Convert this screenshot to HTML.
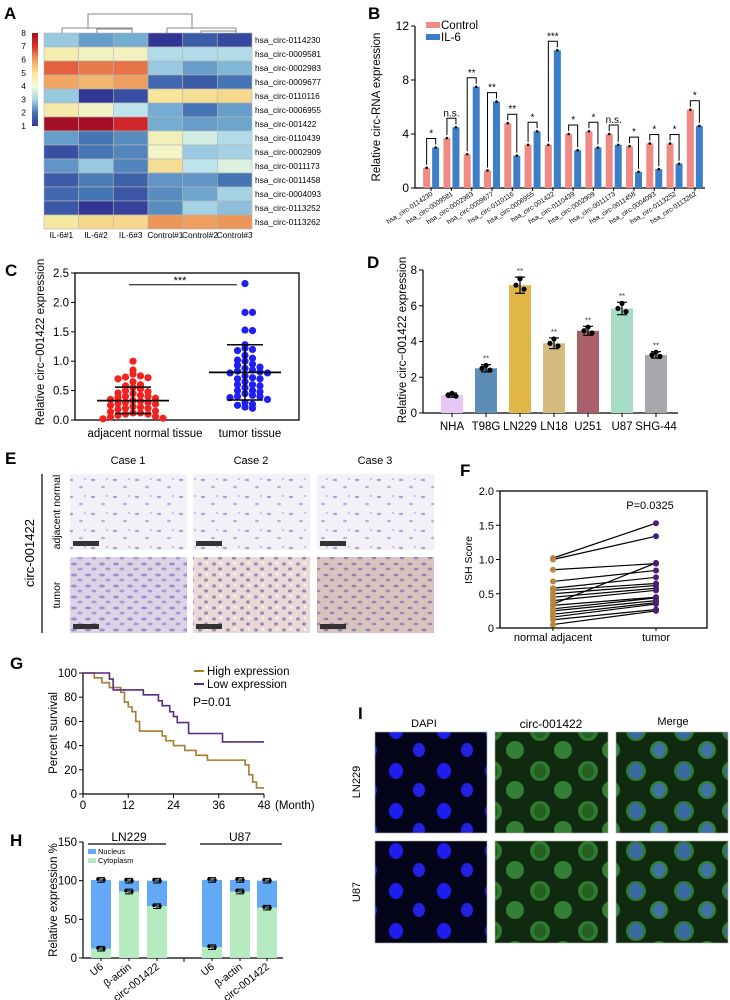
<!DOCTYPE html>
<html><head><meta charset="utf-8">
<style>
body{margin:0;background:#fff;}
svg{display:block;font-family:"Liberation Sans",Arial,sans-serif;}
.pl{font-weight:bold;font-size:17px;}
</style></head>
<body>
<svg id="fig" width="730" height="1000" viewBox="0 0 730 1000" xmlns="http://www.w3.org/2000/svg">
<defs>
<linearGradient id="cbar" x1="0" y1="1" x2="0" y2="0">
<stop offset="0" stop-color="#313695"/><stop offset="0.14" stop-color="#4575b4"/><stop offset="0.29" stop-color="#abd9e9"/><stop offset="0.43" stop-color="#f3fbd4"/><stop offset="0.57" stop-color="#f8e59a"/><stop offset="0.71" stop-color="#f1a35d"/><stop offset="0.86" stop-color="#d73027"/><stop offset="1" stop-color="#a50f26"/>
</linearGradient>
<pattern id="pAdj" width="22" height="17" patternUnits="userSpaceOnUse"><rect width="22" height="17" fill="#f3f0f8"/><ellipse cx="5" cy="4" rx="2.2" ry="1.2" fill="#a9a3dc"/><ellipse cx="15" cy="11" rx="2" ry="1.3" fill="#b6b0e2"/><ellipse cx="19" cy="3" rx="1.3" ry="1" fill="#c2bde6"/></pattern>
<pattern id="pT1" width="14" height="11" patternUnits="userSpaceOnUse"><rect width="14" height="11" fill="#ddd3e6"/><ellipse cx="4" cy="3" rx="3" ry="1.5" fill="#9b90cc"/><ellipse cx="10" cy="8" rx="2.6" ry="1.5" fill="#a79cd2"/></pattern>
<pattern id="pT2" width="14" height="11" patternUnits="userSpaceOnUse"><rect width="14" height="11" fill="#e8d9d6"/><ellipse cx="4" cy="3" rx="2" ry="1.6" fill="#a18ab8"/><ellipse cx="10" cy="8" rx="2" ry="1.6" fill="#9c86b0"/><circle cx="11" cy="2" r="1.5" fill="#f6f0ee"/></pattern>
<pattern id="pT3" width="14" height="11" patternUnits="userSpaceOnUse"><rect width="14" height="11" fill="#d9c3bf"/><ellipse cx="4" cy="3" rx="2.6" ry="1.4" fill="#9282b2"/><ellipse cx="10" cy="8" rx="2.4" ry="1.4" fill="#9a88b4"/></pattern>
<pattern id="pDapi" width="48" height="40" patternUnits="userSpaceOnUse"><rect width="48" height="40" fill="#04041a"/><ellipse cx="12" cy="11" rx="7" ry="8" fill="#1d1df0"/><ellipse cx="35" cy="30" rx="6" ry="7" fill="#2222e0"/></pattern>
<pattern id="pGreen" width="48" height="40" patternUnits="userSpaceOnUse"><rect width="48" height="40" fill="#0f2a0f"/><ellipse cx="12" cy="11" rx="10" ry="10" fill="#2f7a2f"/><ellipse cx="12" cy="11" rx="6" ry="7" fill="#246224"/><ellipse cx="35" cy="30" rx="9" ry="9" fill="#347f34"/></pattern>
<pattern id="pMerge" width="48" height="40" patternUnits="userSpaceOnUse"><rect width="48" height="40" fill="#0f2a0f"/><ellipse cx="12" cy="11" rx="10" ry="10" fill="#2f7a2f"/><ellipse cx="12" cy="11" rx="7" ry="8" fill="#3a6aa5"/><ellipse cx="35" cy="30" rx="9" ry="9" fill="#347f34"/><ellipse cx="35" cy="30" rx="6" ry="7" fill="#3f70a8"/></pattern>
</defs>

<text class="pl" x="4" y="19">A</text>
<text class="pl" x="368" y="19">B</text>
<text class="pl" x="5" y="276">C</text>
<text class="pl" x="367" y="268">D</text>
<text class="pl" x="5" y="464">E</text>
<text class="pl" x="460" y="476">F</text>
<text class="pl" x="10" y="669">G</text>
<text class="pl" x="10" y="846">H</text>
<text class="pl" x="358" y="719">I</text>

<g id="gA">
<rect x="32" y="33" width="6" height="93" fill="url(#cbar)"/>
</g>
<g id="gB"></g>
<g id="gC"></g>
<g id="gD"></g>

<g id="gE">
<text x="128" y="464" font-size="11" text-anchor="middle">Case 1</text>
<text x="251" y="464" font-size="11" text-anchor="middle">Case 2</text>
<text x="375" y="464" font-size="11" text-anchor="middle">Case 3</text>
<line x1="42" y1="474" x2="42" y2="633" stroke="#000" stroke-width="1.2"/>
<text transform="translate(34,553) rotate(-90)" font-size="13" text-anchor="middle">circ-001422</text>
<text transform="translate(60,512) rotate(-90)" font-size="10.5" text-anchor="middle">adjacent normal</text>
<text transform="translate(60,595) rotate(-90)" font-size="10.5" text-anchor="middle">tumor</text>
<rect x="70" y="474" width="117" height="76" fill="url(#pAdj)"/>
<rect x="193" y="474" width="117" height="76" fill="url(#pAdj)"/>
<rect x="317" y="474" width="117" height="76" fill="url(#pAdj)"/>
<rect x="70" y="557" width="117" height="76" fill="url(#pT1)"/>
<rect x="193" y="557" width="117" height="76" fill="url(#pT2)"/>
<rect x="317" y="557" width="117" height="76" fill="url(#pT3)"/>
<g fill="#333"><rect x="73" y="541" width="26" height="5"/><rect x="196" y="541" width="26" height="5"/><rect x="320" y="541" width="26" height="5"/><rect x="73" y="624" width="26" height="5"/><rect x="196" y="624" width="26" height="5"/><rect x="320" y="624" width="26" height="5"/></g>
</g>

<g id="gF"></g>
<g id="gG"></g>
<g id="gH"></g>

<g id="gI">
<text x="424" y="727" font-size="11" text-anchor="middle">DAPI</text>
<text x="551" y="728" font-size="12" text-anchor="middle">circ-001422</text>
<text x="673" y="725" font-size="11" text-anchor="middle">Merge</text>
<text transform="translate(360,782) rotate(-90)" font-size="11" text-anchor="middle">LN229</text>
<text transform="translate(360,892) rotate(-90)" font-size="11" text-anchor="middle">U87</text>
<rect x="375" y="732" width="112" height="101" fill="url(#pDapi)" stroke="#aaa" stroke-width="0.6"/>
<rect x="495" y="732" width="113" height="101" fill="url(#pGreen)" stroke="#aaa" stroke-width="0.6"/>
<rect x="616" y="732" width="112" height="101" fill="url(#pMerge)" stroke="#aaa" stroke-width="0.6"/>
<rect x="375" y="841" width="112" height="102" fill="url(#pDapi)" stroke="#aaa" stroke-width="0.6"/>
<rect x="495" y="841" width="113" height="102" fill="url(#pGreen)" stroke="#aaa" stroke-width="0.6"/>
<rect x="616" y="841" width="112" height="102" fill="url(#pMerge)" stroke="#aaa" stroke-width="0.6"/>
</g>
</svg>

<script>
const NS="http://www.w3.org/2000/svg";
function mk(tag,attrs,parent,txt){const e=document.createElementNS(NS,tag);for(const k in attrs)e.setAttribute(k,attrs[k]);if(txt!==undefined)e.textContent=txt;parent.appendChild(e);return e;}

/* ---------- A: heatmap ---------- */
const hmRows=["hsa_circ-0114230","hsa_circ-0009581","hsa_circ-0002983","hsa_circ-0009677","hsa_circ-0110116","hsa_circ-0006955","hsa_circ-001422","hsa_circ-0110439","hsa_circ-0002909","hsa_circ-0011173","hsa_circ-0011458","hsa_circ-0004093","hsa_circ-0113252","hsa_circ-0113262"];
const hmCols=["IL-6#1","IL-6#2","IL-6#3","Control#1","Control#2","Control#3"];
const hmVals=[[3,2.5,2.7,1,1.6,1.3],[4.5,4.3,4.3,3.2,3.2,3.2],[6.5,6.2,6.3,3,2.5,2.8],[5.7,5.5,5.8,1.8,1.6,2],[3,1,1.4,4.8,4.9,5],[4.6,4.2,3.3,2.7,2,2.5],[8,8,7.5,2.7,2.5,2.6],[2.5,2,2.3,4.4,3.6,3.2],[1.4,2,2.2,4.2,3,3.1],[2.4,3,2.2,4.9,3.3,3.7],[1.6,2.1,1.7,2.4,2.4,2],[1.8,2,1.5,2.3,2.6,3.1],[1.5,1,1.2,2.3,3.1,2.9],[4.7,5,5,5.9,5.8,5.9]];
const cbTicks=[1,2,3,4,5,6,7,8];
(function(){
 const g=document.getElementById('gA');
 const stops=[[1,[49,54,149]],[2,[69,117,180]],[2.7,[116,173,209]],[3.3,[190,228,238]],[4,[240,249,215]],[4.8,[246,229,154]],[5.6,[241,176,104]],[6.5,[228,97,63]],[7.5,[208,39,42]],[8,[165,15,38]]];
 function col(v){for(let i=0;i<stops.length-1;i++){const a=stops[i],b=stops[i+1];if(v<=b[0]){const t=Math.max(0,(v-a[0])/(b[0]-a[0]));return 'rgb('+a[1].map((c,j)=>Math.round(c+(b[1][j]-c)*t)).join(',')+')';}}return 'rgb(165,15,38)';}
 const x0=44,y0=33,cw=34.67,rh=14;
 hmVals.forEach((row,r)=>{row.forEach((v,c)=>{
  const e=mk('rect',{x:x0+c*cw,y:y0+r*rh,width:cw,height:rh,fill:col(v),stroke:'#b5b5b5','stroke-width':0.6},g);
  
  
 });
 const t=mk('text',{x:255,y:y0+r*rh+10,'font-size':8.3},g,hmRows[r]);
 
 
 });
 hmCols.forEach((c,i)=>{const t=mk('text',{x:x0+(i+0.5)*cw,y:238,'font-size':8.3,'text-anchor':'middle'},g,c);
  
  });
 cbTicks.forEach(v=>{const t=mk('text',{x:26,y:126-(v-1)*13.3+3,'font-size':8.5,'text-anchor':'end'},g,v);
  
  });
 const d="M62 33V28H132V33M97 28V29M97 33V29H132M88 28V14H192V28M167 28H236M201 33V31H236V33M167 33V28M236 31V28";
 const p=mk('path',{d:d,fill:'none',stroke:'#666','stroke-width':0.8},g);
 
 
})();

/* ---------- B: grouped bars ---------- */
const bCats=["hsa_circ-0114230","hsa_circ-0009581","hsa_circ-0002983","hsa_circ-0009677","hsa_circ-0110116","hsa_circ-0006955","hsa_circ-001422","hsa_circ-0110439","hsa_circ-0002909","hsa_circ-0011173","hsa_circ-0011458","hsa_circ-0004093","hsa_circ-0113252","hsa_circ-0113262"];
const bControl=[1.5,3.7,2.5,1.3,4.8,3.2,3.2,4.0,4.2,4.0,3.1,3.3,3.3,5.8];
const bIL6=[3.0,4.5,7.5,6.4,2.4,4.2,10.2,2.8,3.0,3.2,1.2,1.4,1.8,4.6];
const bSig=["*","n.s.","**","**","**","*","***","*","*","n.s.","*","*","*","*"];
const bTicks=[0,4,8,12];
(function(){
 const g=document.getElementById('gB');
 const X0=415,X1=705,Y0=188,Y1=26,yMax=12;
 const y=v=>Y0-(v/yMax)*(Y0-Y1);
 const gw=(X1-X0-6)/bCats.length;
 const cx=i=>X0+6+gw*(i+0.5);
 mk('line',{x1:X0,y1:Y0,x2:X1,y2:Y0,stroke:'#000','stroke-width':1.2},g);
 mk('line',{x1:X0,y1:Y1,x2:X0,y2:Y0,stroke:'#000','stroke-width':1.2},g);
 bTicks.forEach(v=>{mk('line',{x1:X0-4,y1:y(v),x2:X0,y2:y(v),stroke:'#000'},g);
  const t=mk('text',{x:X0-6,y:y(v)+4,'font-size':12,'text-anchor':'end'},g,v);
  
  });
 bCats.forEach((c,i)=>{
  const a=mk('rect',{x:cx(i)-8,y:y(bControl[i]),width:7,height:Y0-y(bControl[i]),fill:'#f08a84'},g);
  
  
  const b=mk('rect',{x:cx(i)+1,y:y(bIL6[i]),width:7,height:Y0-y(bIL6[i]),fill:'#3d7fc6'},g);
  
  
  mk('circle',{cx:cx(i)-4.5,cy:y(bControl[i]),r:1.3,fill:'#000'},g);
  mk('circle',{cx:cx(i)+4.5,cy:y(bIL6[i]),r:1.3,fill:'#000'},g);
  const top=Math.max(bControl[i],bIL6[i]);
  const by=y(top)-9;
  mk('path',{d:`M${cx(i)-4.5} ${y(bControl[i])-3}V${by}H${cx(i)+4.5}V${y(bIL6[i])-3}`,fill:'none',stroke:'#000','stroke-width':1},g);
  const s=mk('text',{x:cx(i),y:by-2,'font-size':10,'text-anchor':'middle'},g,bSig[i]);
  
  
  mk('line',{x1:cx(i),y1:Y0,x2:cx(i),y2:Y0+3,stroke:'#000'},g);
  const t=mk('text',{x:cx(i)+2,y:Y0+7,'font-size':6.8,'text-anchor':'end',transform:`rotate(-33 ${cx(i)+2} ${Y0+7})`},g,c);
  
  
 });
 const l1=mk('rect',{x:426,y:22,width:14,height:6,fill:'#f08a84'},g);
 
 
 mk('text',{x:441,y:29,'font-size':11.5},g,'Control');
 const l2=mk('rect',{x:426,y:34,width:14,height:6,fill:'#3d7fc6'},g);
 
 
 mk('text',{x:441,y:41,'font-size':11.5},g,'IL-6');
 const yl=mk('text',{transform:'translate(380,107) rotate(-90)','font-size':11.5,'text-anchor':'middle'},g,'Relative circ-RNA expression');
 
 
})();

/* ---------- C: scatter ---------- */
const cNormal=[1.0,0.85,0.78,0.75,0.73,0.72,0.70,0.65,0.6,0.58,0.55,0.53,0.5,0.48,0.46,0.45,0.42,0.4,0.38,0.37,0.35,0.33,0.32,0.3,0.28,0.27,0.25,0.23,0.22,0.2,0.2,0.18,0.15,0.14,0.12,0.12,0.1,0.1,0.08,0.06,0.05,0.03,0.02,0.4,0.3];
const cTumor=[2.32,1.83,1.83,1.53,1.52,1.28,1.22,1.2,1.18,1.1,1.05,1.02,1.0,0.95,0.93,0.9,0.88,0.85,0.83,0.82,0.8,0.8,0.75,0.72,0.7,0.65,0.6,0.58,0.55,0.5,0.48,0.45,0.42,0.4,0.4,0.38,0.35,0.3,0.27,0.25,0.22,0.2,0.6,0.7,0.5];
const cStats=[[0.33,0.11,0.56],[0.81,0.34,1.28]];
const cGroups=["adjacent normal tissue","tumor tissue"];
const cTicks=[0,0.5,1,1.5,2,2.5];
(function(){
 const g=document.getElementById('gC');
 const X0=75,X1=299,Y0=420,Y1=273;
 const y=v=>Y0-(v/2.5)*(Y0-Y1);
 const gx=[133,245],cols=['#f2231f','#1f1ff2'];
 mk('rect',{x:X0,y:Y1,width:X1-X0,height:Y0-Y1,fill:'none',stroke:'#000','stroke-width':1.3},g);
 cTicks.forEach(v=>{mk('line',{x1:X0-4,y1:y(v),x2:X0,y2:y(v),stroke:'#000'},g);
  const t=mk('text',{x:X0-6,y:y(v)+4,'font-size':11.5,'text-anchor':'end'},g,v.toFixed(1));
  
  });
 [cNormal,cTumor].forEach((arr,gi)=>{
  const bins={};
  arr.slice().sort((a,b)=>b-a).forEach(v=>{
   const k=Math.round(y(v)/6.5);bins[k]=(bins[k]||0)+1;const n=bins[k]-1;
   const off=n===0?0:(n%2?1:-1)*Math.ceil(n/2)*7.5;
   const c=mk('circle',{cx:gx[gi]+off,cy:y(v),r:3.6,fill:cols[gi]},g);
   
   
  });
  const s=cStats[gi];
  mk('line',{x1:gx[gi]-36,y1:y(s[0]),x2:gx[gi]+36,y2:y(s[0]),stroke:'#000','stroke-width':1.8},g);
  mk('line',{x1:gx[gi],y1:y(s[1]),x2:gx[gi],y2:y(s[2]),stroke:'#000','stroke-width':1.5},g);
  mk('line',{x1:gx[gi]-18,y1:y(s[1]),x2:gx[gi]+18,y2:y(s[1]),stroke:'#000','stroke-width':1.5},g);
  mk('line',{x1:gx[gi]-18,y1:y(s[2]),x2:gx[gi]+18,y2:y(s[2]),stroke:'#000','stroke-width':1.5},g);
  const t=mk('text',{x:[145,250][gi],y:437,'font-size':11.5,'text-anchor':'middle'},g,cGroups[gi]);
  
  
 });
 mk('line',{x1:129,y1:y(2.3),x2:237,y2:y(2.3),stroke:'#000','stroke-width':1},g);
 mk('text',{x:180,y:y(2.3)-1,'font-size':11,'text-anchor':'middle'},g,'***');
 const yl=mk('text',{transform:'translate(44,342) rotate(-90)','font-size':11.5,'text-anchor':'middle'},g,'Relative  circ−001422  expression');
 
 
})();

/* ---------- D: cell-line bars ---------- */
const dCats=["NHA","T98G","LN229","LN18","U251","U87","SHG-44"];
const dVals=[1.0,2.5,7.15,3.9,4.6,5.85,3.25];
const dErr=[0.12,0.2,0.45,0.3,0.25,0.35,0.18];
const dColors=["#e7c8f3","#5b8db6","#e1b648","#d5bb7e","#a9606b","#a6dcc6","#a7a7ad"];
const dTicks=[0,2,4,6,8];
(function(){
 const g=document.getElementById('gD');
 const X0=423,X1=678,Y0=413,Y1=270;
 const y=v=>Y0-(v/8)*(Y0-Y1);
 mk('line',{x1:X0,y1:Y0,x2:X1,y2:Y0,stroke:'#000','stroke-width':1.2},g);
 mk('line',{x1:X0,y1:Y1,x2:X0,y2:Y0,stroke:'#000','stroke-width':1.2},g);
 dTicks.forEach(v=>{mk('line',{x1:X0-4,y1:y(v),x2:X0,y2:y(v),stroke:'#000'},g);
  const t=mk('text',{x:X0-6,y:y(v)+4,'font-size':11.5,'text-anchor':'end'},g,v);
  
  });
 dCats.forEach((c,i)=>{
  const cx=452+34*i;
  const b=mk('rect',{x:cx-11,y:y(dVals[i]),width:22,height:Y0-y(dVals[i]),fill:dColors[i]},g);
  
  
  const e1=y(dVals[i]+dErr[i]),e2=y(dVals[i]-dErr[i]);
  mk('path',{d:`M${cx} ${e1}V${e2}M${cx-5} ${e1}H${cx+5}M${cx-5} ${e2}H${cx+5}`,stroke:'#000','stroke-width':1.2,fill:'none'},g);
  mk('circle',{cx:cx-4,cy:y(dVals[i]),r:2.6,fill:'#000'},g);
  mk('circle',{cx:cx+4,cy:y(dVals[i]-dErr[i]*0.5),r:2.6,fill:'#000'},g);
  mk('circle',{cx:cx,cy:y(dVals[i]+dErr[i]*0.8),r:2.6,fill:'#000'},g);
  if(i>0){mk('text',{x:cx,y:e1-3,'font-size':8,'text-anchor':'middle',fill:'#444'},g,'**');}
  mk('line',{x1:cx,y1:Y0,x2:cx,y2:Y0+4,stroke:'#000'},g);
  const t=mk('text',{x:cx,y:Y0+17,'font-size':11.5,'text-anchor':'middle'},g,c);
  
  
 });
 const yl=mk('text',{transform:'translate(406,340) rotate(-90)','font-size':11.5,'text-anchor':'middle'},g,'Relative  circ−001422  expression');
 
 
})();

/* ---------- F: paired ISH score ---------- */
const fNormal=[1.02,1.0,0.85,0.68,0.58,0.55,0.50,0.45,0.40,0.35,0.33,0.28,0.25,0.20,0.16,0.12,0.05];
const fTumor=[1.53,1.34,0.94,0.84,0.74,0.65,0.62,0.58,0.55,0.95,0.45,0.44,0.40,0.37,0.35,0.27,0.25];
const fTicks=[0,0.5,1,1.5,2];
(function(){
 const g=document.getElementById('gF');
 const X0=500,X1=707,Y0=628,Y1=491;
 const y=v=>Y0-(v/2)*(Y0-Y1);
 mk('rect',{x:X0,y:Y1,width:X1-X0,height:Y0-Y1,fill:'none',stroke:'#000','stroke-width':1.3},g);
 fTicks.forEach(v=>{mk('line',{x1:X0-4,y1:y(v),x2:X0,y2:y(v),stroke:'#000'},g);
  const t=mk('text',{x:X0-6,y:y(v)+4,'font-size':11,'text-anchor':'end'},g,v===0?'0':v.toFixed(1));
  
  });
 const xn=553,xt=656;
 fNormal.forEach((v,i)=>{
  const l=mk('line',{x1:xn,y1:y(v),x2:xt,y2:y(fTumor[i]),stroke:'#000','stroke-width':1.2},g);
  
  
 });
 fNormal.forEach((v,i)=>{
  const a=mk('circle',{cx:xn,cy:y(v),r:3,fill:'#b8863b'},g);
  
  
  const b=mk('circle',{cx:xt,cy:y(fTumor[i]),r:3,fill:'#4b1f6f'},g);
  
  
 });
 mk('line',{x1:xn,y1:Y0,x2:xn,y2:Y0+3,stroke:'#000'},g);
 mk('line',{x1:xt,y1:Y0,x2:xt,y2:Y0+3,stroke:'#000'},g);
 mk('text',{x:xn,y:Y0+13,'font-size':11,'text-anchor':'middle'},g,'normal adjacent');
 mk('text',{x:xt,y:Y0+13,'font-size':11,'text-anchor':'middle'},g,'tumor');
 mk('text',{x:650,y:509,'font-size':11,'text-anchor':'middle'},g,'P=0.0325');
 const yl=mk('text',{transform:'translate(472,560) rotate(-90)','font-size':10.5,'text-anchor':'middle'},g,'ISH Score');
 
 
})();

/* ---------- G: survival ---------- */
const gHighT=[0,3,5,7,10,11,12,13,14,15,21,22,24,27,30,33,43,44,45,46,48];
const gHighS=[100,96,92,88,84,76,72,68,60,52,48,44,40,36,32,28,24,16,10,5,5];
const gLowT=[0,7,8,9,16,20,21,23,24,25,28,37,48];
const gLowS=[100,95,86,86,82,77,73,68,64,59,50,43,43];
const gXTicks=[0,12,24,36,48];
const gYTicks=[0,20,40,60,80,100];
(function(){
 const g=document.getElementById('gG');
 const X0=83,X1=264,Y0=794,Y1=673;
 const x=t=>X0+(t/48)*(X1-X0),y=v=>Y0-(v/100)*(Y0-Y1);
 mk('line',{x1:X0,y1:Y0,x2:X1,y2:Y0,stroke:'#000','stroke-width':1.2},g);
 mk('line',{x1:X0,y1:Y1,x2:X0,y2:Y0,stroke:'#000','stroke-width':1.2},g);
 gXTicks.forEach(v=>{mk('line',{x1:x(v),y1:Y0,x2:x(v),y2:Y0+4,stroke:'#000'},g);
  const t=mk('text',{x:x(v),y:Y0+15,'font-size':11.5,'text-anchor':'middle'},g,v);
  
  });
 gYTicks.forEach(v=>{mk('line',{x1:X0-4,y1:y(v),x2:X0,y2:y(v),stroke:'#000'},g);
  const t=mk('text',{x:X0-6,y:y(v)+4,'font-size':11.5,'text-anchor':'end'},g,v);
  
  });
 function step(T,S){let d=`M${x(T[0])} ${y(S[0])}`;for(let i=1;i<T.length;i++){d+=`H${x(T[i])}V${y(S[i])}`;}return d;}
 const h=mk('path',{d:step(gHighT,gHighS),fill:'none',stroke:'#a87a2e','stroke-width':1.6},g);
 
 
 const l=mk('path',{d:step(gLowT,gLowS),fill:'none',stroke:'#5a2a7e','stroke-width':1.6},g);
 
 
 mk('line',{x1:194,y1:671,x2:204,y2:671,stroke:'#a87a2e','stroke-width':2},g);
 mk('text',{x:207,y:675,'font-size':11.5},g,'High expression');
 mk('line',{x1:194,y1:684,x2:204,y2:684,stroke:'#5a2a7e','stroke-width':2},g);
 mk('text',{x:207,y:688,'font-size':11.5},g,'Low expression');
 mk('text',{x:193,y:706,'font-size':12},g,'P=0.01');
 mk('text',{x:275,y:809,'font-size':11.5},g,'(Month)');
 const yl=mk('text',{transform:'translate(57,733) rotate(-90)','font-size':11.5,'text-anchor':'middle'},g,'Percent survival');
 
 
})();

/* ---------- H: stacked bars ---------- */
const hCats=["U6","β-actin","circ-001422","U6","β-actin","circ-001422"];
const hCyto=[12,86,67,14,86,65];
const hTotal=[101,100,100,101,101,100];
const hYTicks=[0,50,100,150];
(function(){
 const g=document.getElementById('gH');
 const X0=83,X1=283,Y0=958,Y1=842;
 const y=v=>Y0-(v/150)*(Y0-Y1);
 const cx=[101,129,157,212,240,267];
 mk('line',{x1:X0,y1:Y0,x2:X1,y2:Y0,stroke:'#000','stroke-width':1.2},g);
 mk('line',{x1:X0,y1:Y1,x2:X0,y2:Y0,stroke:'#000','stroke-width':1.2},g);
 mk('line',{x1:184,y1:Y0,x2:184,y2:Y0+4,stroke:'#000'},g);
 hYTicks.forEach(v=>{mk('line',{x1:X0-4,y1:y(v),x2:X0,y2:y(v),stroke:'#000'},g);
  const t=mk('text',{x:X0-6,y:y(v)+4,'font-size':11.5,'text-anchor':'end'},g,v);
  
  });
 hCats.forEach((c,i)=>{
  const n=mk('rect',{x:cx[i]-10,y:y(hTotal[i]),width:20,height:y(hCyto[i])-y(hTotal[i]),fill:'#64a9f5'},g);
  
  
  const cy=mk('rect',{x:cx[i]-10,y:y(hCyto[i]),width:20,height:Y0-y(hCyto[i]),fill:'#b6ebc1'},g);
  
  
  [hCyto[i],hTotal[i]].forEach(v=>{
   mk('path',{d:`M${cx[i]} ${y(v+3)}V${y(v-3)}M${cx[i]-4} ${y(v+3)}H${cx[i]+4}M${cx[i]-4} ${y(v-3)}H${cx[i]+4}`,stroke:'#000','stroke-width':1,fill:'none'},g);
   mk('circle',{cx:cx[i]-3,cy:y(v+1),r:1.8,fill:'#000'},g);
   mk('circle',{cx:cx[i]+3,cy:y(v),r:1.8,fill:'#000'},g);
  });
  mk('line',{x1:cx[i],y1:Y0,x2:cx[i],y2:Y0+3,stroke:'#000'},g);
  const t=mk('text',{x:cx[i]+3,y:Y0+10,'font-size':10.5,'text-anchor':'end',transform:`rotate(-38 ${cx[i]+3} ${Y0+10})`},g,c);
  
  
 });
 mk('text',{x:129,y:841,'font-size':12,'text-anchor':'middle'},g,'LN229');
 mk('line',{x1:88,y1:844,x2:166,y2:844,stroke:'#000','stroke-width':1.2},g);
 mk('text',{x:240,y:841,'font-size':12,'text-anchor':'middle'},g,'U87');
 mk('line',{x1:200,y1:844,x2:282,y2:844,stroke:'#000','stroke-width':1.2},g);
 mk('rect',{x:88,y:849,width:8,height:5,fill:'#64a9f5'},g);
 mk('text',{x:98,y:854,'font-size':7.5},g,'Nucleus');
 mk('rect',{x:88,y:858,width:8,height:5,fill:'#b6ebc1'},g);
 mk('text',{x:98,y:863,'font-size':7.5},g,'Cytoplasm');
 const yl=mk('text',{transform:'translate(57,900) rotate(-90)','font-size':11.5,'text-anchor':'middle'},g,'Relative expression %');
 
 
})();
</script>
</body></html>
